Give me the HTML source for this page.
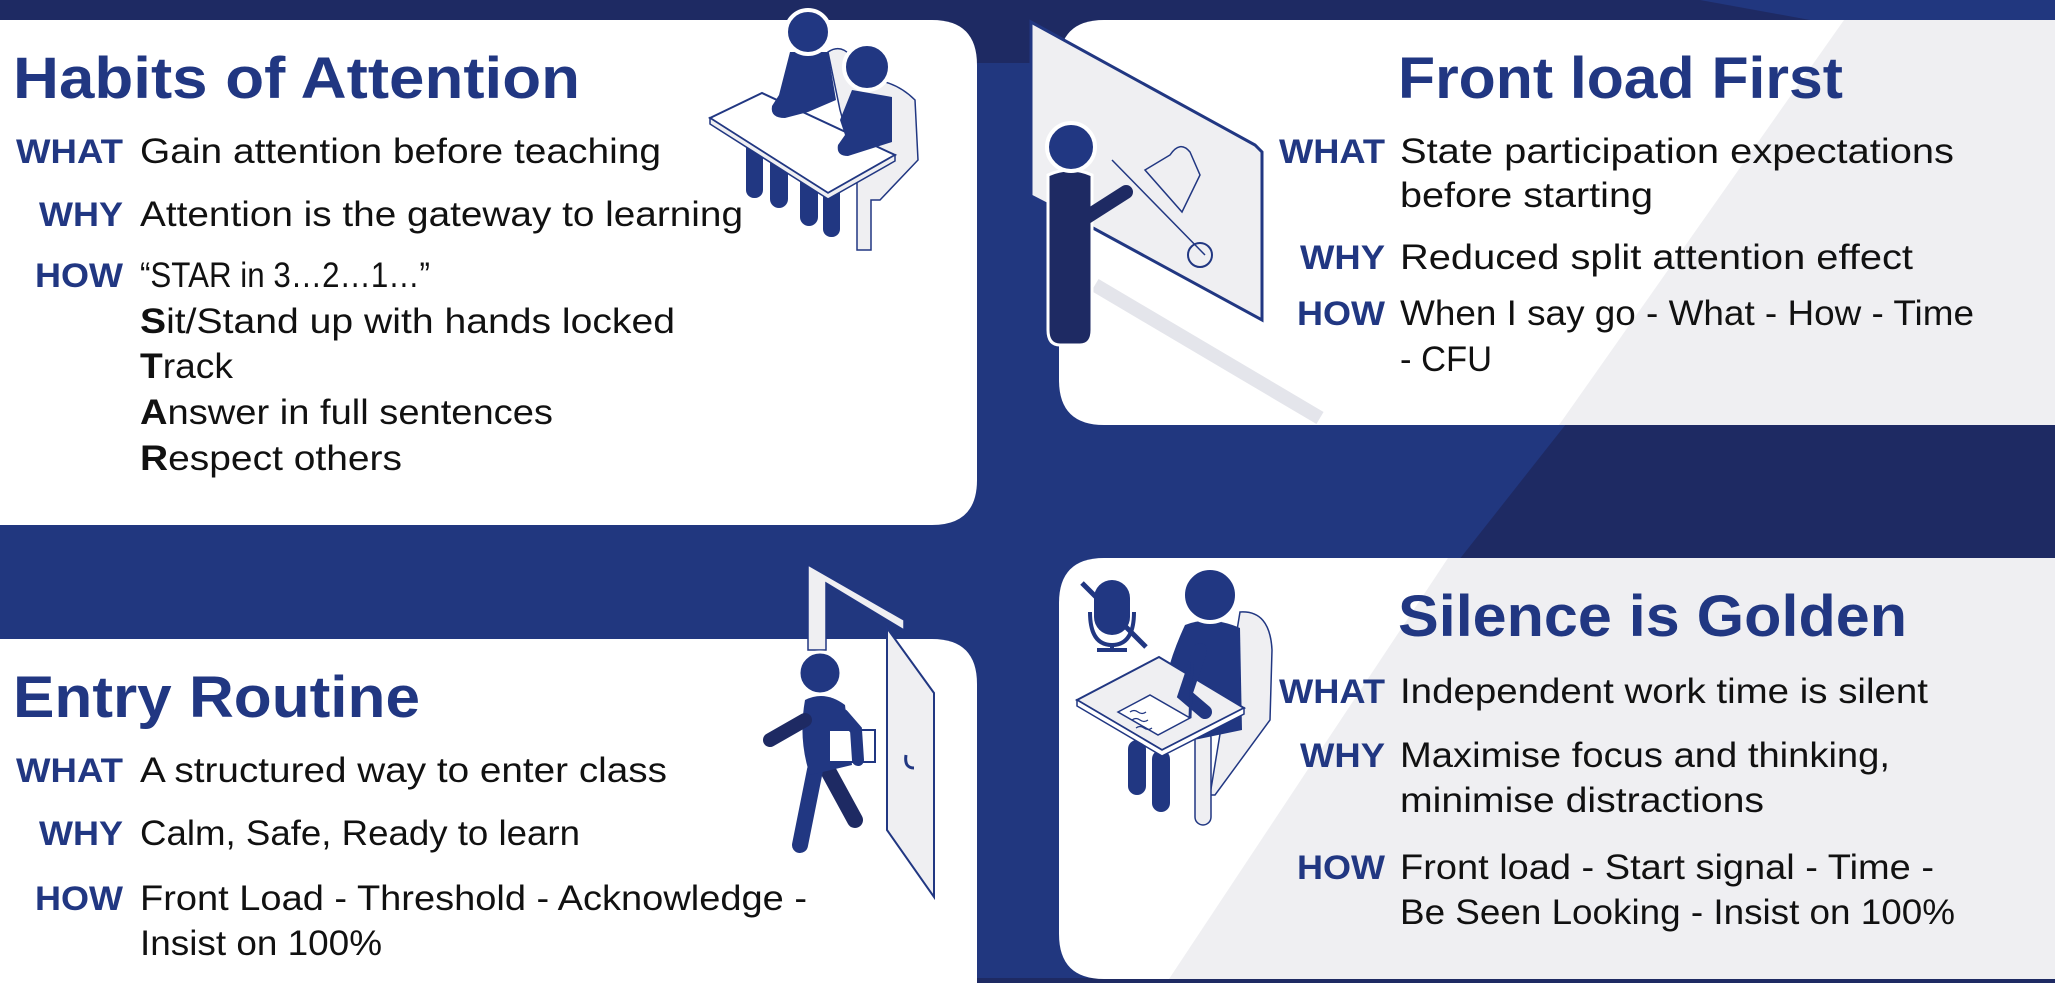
<!DOCTYPE html>
<html><head><meta charset="utf-8"><style>
html,body{margin:0;padding:0;background:#21377f;}
svg{display:block}
text{font-family:"Liberation Sans",Arial,sans-serif;}
.t{font-weight:bold;fill:#213782;font-size:58px}
.l{font-weight:bold;fill:#213782;font-size:34px}
.b{fill:#111;font-size:35px}
</style></head><body>
<svg width="2055" height="983" viewBox="0 0 2055 983" xmlns="http://www.w3.org/2000/svg">
<rect width="2055" height="983" fill="#21377f"/>
<rect width="2055" height="63" fill="#1e2a63"/>
<polygon points="1700,0 2055,0 2055,20 1810,20" fill="#21377f"/>
<polygon points="1585,400 2055,400 2055,565 1455,565" fill="#1e2a63"/>
<rect x="0" y="978" width="2055" height="5" fill="#1e2a63"/>

<!-- Card 1 -->
<path d="M0,20 H932 Q977,20 977,65 V480 Q977,525 932,525 H0 Z" fill="#fff"/>
<!-- Card 2 -->
<path d="M2055,20 H1104 Q1059,20 1059,65 V380 Q1059,425 1104,425 H2055 Z" fill="#fff"/>
<polygon points="1844,20 2055,20 2055,425 1559,425" fill="#efeff2"/>
<!-- Card 3 -->
<path d="M0,639 H932 Q977,639 977,684 V983 H0 Z" fill="#fff"/>
<!-- Card 4 -->
<path d="M2055,558 H1104 Q1059,558 1059,603 V934 Q1059,979 1104,979 H2055 Z" fill="#fff"/>
<polygon points="1448,558 2055,558 2055,979 1169,979" fill="#efeff2"/>

<!-- Illustration 1: students at desk -->
<g>
<path d="M828,52 Q840,44 850,55 L852,80 Q890,75 915,100 L918,160 L880,200 L871,200 L871,250 L857,250 L857,170 L840,110 Z" fill="#efeff2" stroke="#213782" stroke-width="1.5"/>
<rect x="746" y="140" width="17" height="58" rx="8" fill="#213782"/>
<rect x="770" y="150" width="18" height="58" rx="9" fill="#213782"/>
<rect x="800" y="160" width="18" height="66" rx="9" fill="#213782"/>
<rect x="823" y="165" width="17" height="72" rx="8" fill="#213782"/>
<polygon points="710,118 762,93 895,155 828,193" fill="#fff" stroke="#213782" stroke-width="2"/>
<polygon points="710,118 710,124 828,199 895,161 895,155 828,193" fill="#efeff2" stroke="#213782" stroke-width="1.5"/>
<path d="M790,52 L828,52 L836,100 L808,112 L785,118 Q770,118 772,106 L779,95 Z" fill="#213782"/>
<path d="M852,90 L892,97 L892,142 L848,156 Q836,156 838,145 L845,135 L840,120 Z" fill="#213782"/>
<circle cx="808" cy="32" r="22" fill="#213782" stroke="#fff" stroke-width="4"/>
<circle cx="867" cy="67" r="23" fill="#213782" stroke="#fff" stroke-width="4"/>
</g>

<!-- Illustration 2: teacher at board -->
<g>
<line x1="1095" y1="285" x2="1320" y2="418" stroke="#e4e5eb" stroke-width="14"/>
<polygon points="1031,22 1255,145 1262,152 1262,320 1093,228 1031,196" fill="#efeff2" stroke="#213782" stroke-width="3"/>
<path d="M1145,170 L1170,155 Q1180,140 1190,152 L1200,175 L1182,212 Z" fill="none" stroke="#213782" stroke-width="1.5"/>
<line x1="1112" y1="160" x2="1205" y2="255" stroke="#213782" stroke-width="1.5"/>
<circle cx="1200" cy="255" r="12" fill="none" stroke="#213782" stroke-width="2"/>
<path d="M1048,175 Q1070,165 1092,175 L1092,330 Q1092,345 1080,345 L1060,345 Q1048,345 1048,330 Z" fill="#1e2a63" stroke="#fff" stroke-width="3"/>
<path d="M1060,190 L1090,215 L1126,192" fill="none" stroke="#1e2a63" stroke-width="14" stroke-linecap="round"/>
<circle cx="1071" cy="147" r="24" fill="#213782" stroke="#fff" stroke-width="4"/>
</g>

<!-- Illustration 3: door & walker -->
<g>
<polygon points="808,565 904,620 904,630 826,583 826,650 808,650" fill="#efeff2" stroke="#213782" stroke-width="1.5"/>
<polygon points="887,628 934,693 934,897 887,830" fill="#efeff2" stroke="#213782" stroke-width="2"/>
<path d="M906,755 Q904,768 914,768" fill="none" stroke="#213782" stroke-width="3"/>
<path d="M825,765 L855,820" stroke="#1e2a63" stroke-width="16" stroke-linecap="round"/>
<path d="M815,770 L800,845" stroke="#213782" stroke-width="16" stroke-linecap="round"/>
<path d="M805,700 Q825,690 845,705 L852,765 L810,775 Q798,740 805,700 Z" fill="#213782"/>
<path d="M805,720 L770,740" stroke="#1e2a63" stroke-width="14" stroke-linecap="round"/>
<rect x="829" y="730" width="46" height="32" fill="#fff" stroke="#213782" stroke-width="2"/>
<path d="M843,715 L856,730 L858,760" stroke="#213782" stroke-width="12" stroke-linecap="round" fill="none"/>
<circle cx="820" cy="673" r="21" fill="#213782" stroke="#fff" stroke-width="3"/>
</g>

<!-- Illustration 4: silent student -->
<g>
<rect x="1094" y="580" width="36" height="55" rx="18" fill="#213782"/>
<path d="M1090,612 Q1090,645 1112,645 Q1134,645 1134,612" fill="none" stroke="#213782" stroke-width="4"/>
<line x1="1112" y1="645" x2="1112" y2="650" stroke="#213782" stroke-width="4"/>
<line x1="1097" y1="650" x2="1127" y2="650" stroke="#213782" stroke-width="4"/>
<line x1="1082" y1="583" x2="1146" y2="647" stroke="#213782" stroke-width="5"/>
<path d="M1240,612 Q1270,610 1272,650 L1270,720 L1215,795 L1210,795 Z" fill="#efeff2" stroke="#213782" stroke-width="1.5"/>
<rect x="1195" y="730" width="16" height="95" rx="8" fill="#efeff2" stroke="#213782" stroke-width="1.5"/>
<rect x="1128" y="740" width="18" height="55" rx="9" fill="#213782"/>
<rect x="1152" y="750" width="18" height="62" rx="9" fill="#213782"/>
<path d="M1185,625 Q1210,615 1240,628 L1242,730 L1170,745 Q1150,700 1185,625 Z" fill="#213782"/>
<polygon points="1077,700 1159,657 1244,708 1162,750" fill="#efeff2" stroke="#213782" stroke-width="2"/>
<polygon points="1077,700 1077,706 1162,756 1244,714 1244,708 1162,750" fill="#fff" stroke="#213782" stroke-width="1.5"/>
<polygon points="1118,712 1150,695 1190,718 1158,735" fill="#fff" stroke="#213782" stroke-width="1.5"/>
<path d="M1130,712 q4,-3 8,0 t8,0 M1132,720 q4,-3 8,0 t8,0 M1136,728 q4,-3 8,0 t8,0" fill="none" stroke="#213782" stroke-width="1.2"/>
<path d="M1200,650 L1185,695 L1205,712" stroke="#213782" stroke-width="14" fill="none" stroke-linecap="round"/>
<line x1="1190" y1="718" x2="1192" y2="662" stroke="#213782" stroke-width="3"/>
<circle cx="1210" cy="595" r="27" fill="#213782" stroke="#fff" stroke-width="4"/>
</g>

<!-- Card 1 text -->
<text class="t" x="13" y="98" textLength="567" lengthAdjust="spacingAndGlyphs">Habits of Attention</text>
<text class="l" x="16" y="163" textLength="107" lengthAdjust="spacingAndGlyphs">WHAT</text>
<text class="b" x="140" y="163" textLength="521" lengthAdjust="spacingAndGlyphs">Gain attention before teaching</text>
<text class="l" x="39" y="226" textLength="84" lengthAdjust="spacingAndGlyphs">WHY</text>
<text class="b" x="140" y="226" textLength="603" lengthAdjust="spacingAndGlyphs">Attention is the gateway to learning</text>
<text class="l" x="35" y="287" textLength="88" lengthAdjust="spacingAndGlyphs">HOW</text>
<text class="b" x="140" y="287" textLength="290" lengthAdjust="spacingAndGlyphs">“STAR in 3…2…1…”</text>
<text class="b" x="140" y="333" textLength="535" lengthAdjust="spacingAndGlyphs"><tspan font-weight="bold">S</tspan>it/Stand up with  hands locked</text>
<text class="b" x="140" y="378" textLength="93" lengthAdjust="spacingAndGlyphs"><tspan font-weight="bold">T</tspan>rack</text>
<text class="b" x="140" y="424" textLength="413" lengthAdjust="spacingAndGlyphs"><tspan font-weight="bold">A</tspan>nswer in full sentences</text>
<text class="b" x="140" y="470" textLength="262" lengthAdjust="spacingAndGlyphs"><tspan font-weight="bold">R</tspan>espect others</text>

<!-- Card 2 text -->
<text class="t" x="1398" y="98" textLength="445" lengthAdjust="spacingAndGlyphs">Front load First</text>
<text class="l" x="1279" y="163" textLength="106" lengthAdjust="spacingAndGlyphs">WHAT</text>
<text class="b" x="1400" y="163" textLength="554" lengthAdjust="spacingAndGlyphs">State participation expectations</text>
<text class="b" x="1400" y="207" textLength="253" lengthAdjust="spacingAndGlyphs">before starting</text>
<text class="l" x="1300" y="269" textLength="85" lengthAdjust="spacingAndGlyphs">WHY</text>
<text class="b" x="1400" y="269" textLength="513" lengthAdjust="spacingAndGlyphs">Reduced split attention effect</text>
<text class="l" x="1297" y="325" textLength="88" lengthAdjust="spacingAndGlyphs">HOW</text>
<text class="b" x="1400" y="325" textLength="574" lengthAdjust="spacingAndGlyphs">When I say go - What - How - Time</text>
<text class="b" x="1400" y="371" textLength="92" lengthAdjust="spacingAndGlyphs">- CFU</text>

<!-- Card 3 text -->
<text class="t" x="13" y="717" textLength="407" lengthAdjust="spacingAndGlyphs">Entry Routine</text>
<text class="l" x="16" y="782" textLength="107" lengthAdjust="spacingAndGlyphs">WHAT</text>
<text class="b" x="140" y="782" textLength="527" lengthAdjust="spacingAndGlyphs">A structured way to enter class</text>
<text class="l" x="39" y="845" textLength="84" lengthAdjust="spacingAndGlyphs">WHY</text>
<text class="b" x="140" y="845" textLength="440" lengthAdjust="spacingAndGlyphs">Calm, Safe, Ready to learn</text>
<text class="l" x="35" y="910" textLength="88" lengthAdjust="spacingAndGlyphs">HOW</text>
<text class="b" x="140" y="910" textLength="667" lengthAdjust="spacingAndGlyphs">Front Load - Threshold - Acknowledge -</text>
<text class="b" x="140" y="955" textLength="242" lengthAdjust="spacingAndGlyphs">Insist on 100%</text>

<!-- Card 4 text -->
<text class="t" x="1398" y="636" textLength="509" lengthAdjust="spacingAndGlyphs">Silence is Golden</text>
<text class="l" x="1279" y="703" textLength="106" lengthAdjust="spacingAndGlyphs">WHAT</text>
<text class="b" x="1400" y="703" textLength="528" lengthAdjust="spacingAndGlyphs">Independent work time is silent</text>
<text class="l" x="1300" y="767" textLength="85" lengthAdjust="spacingAndGlyphs">WHY</text>
<text class="b" x="1400" y="767" textLength="490" lengthAdjust="spacingAndGlyphs">Maximise focus and thinking,</text>
<text class="b" x="1400" y="812" textLength="364" lengthAdjust="spacingAndGlyphs">minimise distractions</text>
<text class="l" x="1297" y="879" textLength="88" lengthAdjust="spacingAndGlyphs">HOW</text>
<text class="b" x="1400" y="879" textLength="534" lengthAdjust="spacingAndGlyphs">Front load - Start signal - Time -</text>
<text class="b" x="1400" y="924" textLength="555" lengthAdjust="spacingAndGlyphs">Be Seen Looking - Insist on 100%</text>
</svg>
</body></html>
